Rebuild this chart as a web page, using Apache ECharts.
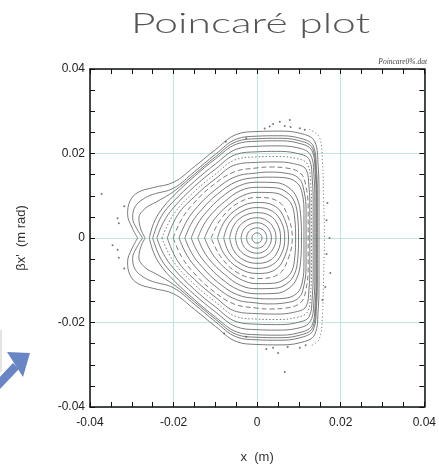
<!DOCTYPE html>
<html>
<head>
<meta charset="utf-8">
<script src="https://cdn.jsdelivr.net/npm/echarts@6/dist/echarts.min.js"></script>
<style>
  html, body { margin: 0; padding: 0; background: #fff; }
  #chart { width: 439px; height: 473px; }
</style>
</head>
<body>
<div id="chart"></div>
<script>
// Axis ticks (metres)
const xTickLabels = [-0.04, -0.02, 0, 0.02, 0.04];
const yTickLabels = [-0.04, -0.02, 0, 0.02, 0.04];

// Phase-space orbits (x, beta*x'), each a closed loop, from the core outwards
const orbit01 = [[-0.00125,0],[-0.00108,0.0006],[-0.00063,0.00104],[0,0.0012],[0.00058,0.00104],[0.001,0.0006],[0.00115,0],[0.001,-0.0006],[0.00058,-0.00104],[0,-0.0012],[-0.00063,-0.00104],[-0.00108,-0.0006],[-0.00125,0]];
const orbit02 = [[-0.00255,0],[-0.00221,0.0012],[-0.00128,0.00208],[0,0.0024],[0.00115,0.00208],[0.00199,0.0012],[0.0023,0],[0.00199,-0.0012],[0.00115,-0.00208],[0,-0.0024],[-0.00128,-0.00208],[-0.00221,-0.0012],[-0.00255,0]];
const orbit03 = [[-0.00385,0],[-0.00333,0.0018],[-0.00193,0.00312],[0,0.0036],[0.0017,0.00312],[0.00294,0.0018],[0.0034,0],[0.00294,-0.0018],[0.0017,-0.00312],[0,-0.0036],[-0.00193,-0.00312],[-0.00333,-0.0018],[-0.00385,0]];
const orbit04 = [[-0.0052,0],[-0.0045,0.0024],[-0.0026,0.00416],[0,0.0048],[0.00225,0.00416],[0.0039,0.0024],[0.0045,0],[0.0039,-0.0024],[0.00225,-0.00416],[0,-0.0048],[-0.0026,-0.00416],[-0.0045,-0.0024],[-0.0052,0]];
const orbit05 = [[-0.0066,0],[-0.00561,0.00294],[-0.0033,0.00516],[0,0.006],[0.00308,0.00528],[0.00493,0.00312],[0.0056,0],[0.00493,-0.00312],[0.00308,-0.00528],[0,-0.006],[-0.0033,-0.00516],[-0.00561,-0.00294],[-0.0066,0]];
const orbit06 = [[-0.008,0],[-0.00672,0.00346],[-0.00384,0.00616],[0,0.0072],[0.00363,0.00634],[0.00581,0.00374],[0.0066,0],[0.00581,-0.00374],[0.00363,-0.00634],[0,-0.0072],[-0.00384,-0.00616],[-0.00672,-0.00346],[-0.008,0]];
const orbit07 = [[-0.0095,0],[-0.00779,0.00395],[-0.00437,0.00714],[0,0.0084],[0.00435,0.00748],[0.0066,0.00437],[0.0075,0],[0.0066,-0.00437],[0.00435,-0.00748],[0,-0.0084],[-0.00437,-0.00714],[-0.00779,-0.00395],[-0.0095,0]];
const orbit08 = [[-0.011,0],[-0.0088,0.00432],[-0.00495,0.00806],[0,0.0096],[0.00504,0.00864],[0.00739,0.00499],[0.0084,0],[0.00739,-0.00499],[0.00504,-0.00864],[0,-0.0096],[-0.00495,-0.00806],[-0.0088,-0.00432],[-0.011,0]];
const orbit09 = [[-0.0126,0],[-0.0113,0.0028],[-0.0096,0.0052],[-0.0069,0.0078],[-0.0035,0.01],[0,0.0108],[0.0039,0.0107],[0.0066,0.0097],[0.0083,0.0078],[0.009,0.0045],[0.0092,0],[0.009,-0.0045],[0.0083,-0.0078],[0.0066,-0.0097],[0.0039,-0.0107],[0,-0.0108],[-0.0035,-0.01],[-0.0069,-0.0078],[-0.0096,-0.0052],[-0.0113,-0.0028],[-0.0126,0]];
const orbit10 = [[-0.0142,0],[-0.0128,0.0031],[-0.0108,0.0058],[-0.0078,0.0086],[-0.004,0.0112],[0,0.012],[0.0042,0.0119],[0.0071,0.0108],[0.0089,0.0086],[0.0097,0.005],[0.0099,0],[0.0097,-0.005],[0.0089,-0.0086],[0.0071,-0.0108],[0.0042,-0.0119],[0,-0.012],[-0.004,-0.0112],[-0.0078,-0.0086],[-0.0108,-0.0058],[-0.0128,-0.0031],[-0.0142,0]];
const orbit11 = [[-0.0158,0],[-0.0142,0.0034],[-0.012,0.0063],[-0.0087,0.0095],[-0.0044,0.0123],[0,0.0132],[0.0045,0.0131],[0.0076,0.0119],[0.0095,0.0095],[0.0104,0.0055],[0.0106,0],[0.0104,-0.0055],[0.0095,-0.0095],[0.0076,-0.0119],[0.0045,-0.0131],[0,-0.0132],[-0.0044,-0.0123],[-0.0087,-0.0095],[-0.012,-0.0063],[-0.0142,-0.0034],[-0.0158,0]];
const orbit12 = [[-0.0173,0],[-0.0156,0.0037],[-0.0131,0.0069],[-0.0095,0.0104],[-0.0048,0.0134],[0,0.0143],[0.0028,0.0144],[0.0062,0.0143],[0.0095,0.0131],[0.0108,0.0104],[0.0112,0.0058],[0.0112,0],[0.0112,-0.0058],[0.0108,-0.0104],[0.0095,-0.0131],[0.0062,-0.0143],[0.0028,-0.0144],[0,-0.0143],[-0.0048,-0.0134],[-0.0095,-0.0104],[-0.0131,-0.0069],[-0.0156,-0.0037],[-0.0173,0]];
const orbit13 = [[-0.0187,0],[-0.0168,0.0041],[-0.0142,0.0075],[-0.0103,0.0112],[-0.0052,0.0145],[0,0.0154],[0.0029,0.0156],[0.0064,0.0154],[0.0099,0.0142],[0.0112,0.0112],[0.0117,0.0062],[0.0117,0],[0.0117,-0.0062],[0.0112,-0.0112],[0.0099,-0.0142],[0.0064,-0.0154],[0.0029,-0.0156],[0,-0.0154],[-0.0052,-0.0145],[-0.0103,-0.0112],[-0.0142,-0.0075],[-0.0168,-0.0041],[-0.0187,0]];
const orbit14 = [[-0.0201,0],[-0.0181,0.0044],[-0.0153,0.0081],[-0.0111,0.0121],[-0.0056,0.0156],[0,0.0166],[0.0031,0.0168],[0.0067,0.0166],[0.0104,0.0153],[0.0117,0.0121],[0.0122,0.0067],[0.0122,0],[0.0122,-0.0067],[0.0117,-0.0121],[0.0104,-0.0153],[0.0067,-0.0166],[0.0031,-0.0168],[0,-0.0166],[-0.0056,-0.0156],[-0.0111,-0.0121],[-0.0153,-0.0081],[-0.0181,-0.0044],[-0.0201,0]];
const orbit15 = [[-0.0215,0],[-0.019,0.0055],[-0.015,0.0098],[-0.01,0.014],[-0.005,0.0174],[0,0.0179],[0.0043,0.018],[0.0087,0.0176],[0.0117,0.0162],[0.0124,0.0121],[0.0126,0.0072],[0.0126,0],[0.0126,-0.0072],[0.0124,-0.0121],[0.0117,-0.0162],[0.0087,-0.0176],[0.0043,-0.018],[0,-0.0179],[-0.005,-0.0174],[-0.01,-0.014],[-0.015,-0.0098],[-0.019,-0.0055],[-0.0215,0]];
const orbit16 = [[-0.0228,0],[-0.02,0.0056],[-0.015,0.011],[-0.01,0.0151],[-0.005,0.0186],[0,0.0192],[0.0044,0.0193],[0.009,0.0189],[0.0121,0.0174],[0.0128,0.0129],[0.013,0.0077],[0.013,0],[0.013,-0.0077],[0.0128,-0.0129],[0.0121,-0.0174],[0.009,-0.0189],[0.0044,-0.0193],[0,-0.0192],[-0.005,-0.0186],[-0.01,-0.0151],[-0.015,-0.011],[-0.02,-0.0056],[-0.0228,0]];
const orbit17 = [[-0.024,0],[-0.0225,0.0036],[-0.02,0.0072],[-0.015,0.0122],[-0.01,0.0163],[-0.005,0.0198],[0,0.0204],[0.0046,0.0205],[0.0092,0.0201],[0.0125,0.0185],[0.0132,0.0137],[0.0134,0.0082],[0.0134,0],[0.0134,-0.0082],[0.0132,-0.0137],[0.0125,-0.0185],[0.0092,-0.0201],[0.0046,-0.0205],[0,-0.0204],[-0.005,-0.0198],[-0.01,-0.0163],[-0.015,-0.0122],[-0.02,-0.0072],[-0.0225,-0.0036],[-0.024,0]];
const orbit18 = [[-0.025,0],[-0.023,0.005],[-0.02,0.0087],[-0.015,0.0134],[-0.01,0.0175],[-0.005,0.021],[0,0.0217],[0.0047,0.0218],[0.0095,0.0214],[0.0128,0.0196],[0.0136,0.0146],[0.0138,0.0087],[0.0138,0],[0.0138,-0.0087],[0.0136,-0.0146],[0.0128,-0.0196],[0.0095,-0.0214],[0.0047,-0.0218],[0,-0.0217],[-0.005,-0.021],[-0.01,-0.0175],[-0.015,-0.0134],[-0.02,-0.0087],[-0.023,-0.005],[-0.025,0]];
const orbit19 = [[-0.0258,0],[-0.0248,0.0034],[-0.023,0.0066],[-0.02,0.01],[-0.015,0.0146],[-0.01,0.0187],[-0.005,0.0222],[0,0.0229],[0.0048,0.023],[0.0097,0.0225],[0.0131,0.0207],[0.0139,0.0154],[0.0141,0.0092],[0.0141,0],[0.0141,-0.0092],[0.0139,-0.0154],[0.0131,-0.0207],[0.0097,-0.0225],[0.0048,-0.023],[0,-0.0229],[-0.005,-0.0222],[-0.01,-0.0187],[-0.015,-0.0146],[-0.02,-0.01],[-0.023,-0.0066],[-0.0248,-0.0034],[-0.0258,0]];
const orbit20 = [[-0.0268,0],[-0.0278,0.002],[-0.0283,0.0046],[-0.0268,0.007],[-0.024,0.0086],[-0.02,0.011],[-0.015,0.0151],[-0.01,0.0192],[-0.005,0.0228],[0,0.0235],[0.00485,0.0236],[0.0098,0.0231],[0.01325,0.02125],[0.01405,0.0158],[0.01425,0.00945],[0.01425,0],[0.01425,-0.00945],[0.01405,-0.0158],[0.01325,-0.02125],[0.0098,-0.0231],[0.00485,-0.0236],[0,-0.0235],[-0.005,-0.0228],[-0.01,-0.0192],[-0.015,-0.0151],[-0.02,-0.011],[-0.024,-0.0086],[-0.0268,-0.007],[-0.0283,-0.0046],[-0.0278,-0.002],[-0.0268,0]];
const orbit21 = [[-0.0274,0],[-0.0288,0.0022],[-0.0298,0.0048],[-0.0292,0.0074],[-0.0273,0.0092],[-0.025,0.0103],[-0.02,0.0118],[-0.015,0.0157],[-0.01,0.0198],[-0.005,0.0234],[0,0.0241],[0.0049,0.0242],[0.0099,0.0237],[0.0134,0.0218],[0.0142,0.0162],[0.0144,0.0097],[0.0144,0],[0.0144,-0.0097],[0.0142,-0.0162],[0.0134,-0.0218],[0.0099,-0.0237],[0.0049,-0.0242],[0,-0.0241],[-0.005,-0.0234],[-0.01,-0.0198],[-0.015,-0.0157],[-0.02,-0.0118],[-0.025,-0.0103],[-0.0273,-0.0092],[-0.0292,-0.0074],[-0.0298,-0.0048],[-0.0288,-0.0022],[-0.0274,0]];
const orbit22 = [[-0.0286,0],[-0.03,0.0026],[-0.031,0.0056],[-0.0304,0.0088],[-0.0285,0.0108],[-0.025,0.0119],[-0.02,0.0132],[-0.015,0.0169],[-0.01,0.0209],[-0.005,0.0245],[0,0.0252],[0.005,0.0253],[0.0102,0.0248],[0.0138,0.0228],[0.0146,0.017],[0.0148,0.0101],[0.0148,0],[0.0148,-0.0101],[0.0146,-0.017],[0.0138,-0.0228],[0.0102,-0.0248],[0.005,-0.0253],[0,-0.0252],[-0.005,-0.0245],[-0.01,-0.0209],[-0.015,-0.0169],[-0.02,-0.0132],[-0.025,-0.0119],[-0.0285,-0.0108],[-0.0304,-0.0088],[-0.031,-0.0056],[-0.03,-0.0026],[-0.0286,0]];

// Outer fringe of turns on the right-hand side
const fringeRight = [[0.0125,0.0257],[0.0149,0.0238],[0.0156,0.0185],[0.0159,0.009],[0.0161,0],[0.0159,-0.009],[0.0156,-0.0185],[0.0149,-0.0238],[0.0125,-0.0257]];

// Isolated turns outside the stable region
const strayTurns = [[0.0038,0.027],[0.0054,0.0275],[0.0078,0.0279],[0.0066,0.0265],[0.0102,0.026],[0.008,0.0263],[0.003,0.0264],[0.0114,0.0256],[0.0018,0.0259],[0.0038,-0.026],[0.0073,-0.0258],[0.0102,-0.026],[0.005,-0.0272],[0.0066,-0.0317],[0.0022,-0.0263],[0.0116,-0.0254],[0.0168,0.0083],[0.0173,0],[0.0175,-0.0083],[0.0163,-0.0116],[0.0156,-0.0147],[0.0166,0.0042],[0.0166,-0.0038],[-0.0372,0.0104],[-0.0334,0.0047],[-0.0331,0.0035],[-0.0346,-0.0017],[-0.0334,-0.0028],[-0.0331,-0.0047],[-0.0026,0.0236],[-0.0026,-0.0234],[-0.0075,0.0228],[-0.0079,-0.0226],[-0.0318,0.0075],[-0.0318,-0.0072]];

const orbits = [orbit01, orbit02, orbit03, orbit04, orbit05, orbit06, orbit07, orbit08, orbit09, orbit10, orbit11,
  orbit12, orbit13, orbit14, orbit15, orbit16, orbit17, orbit18, orbit19, orbit20, orbit21, orbit22];
// Island chains show up as broken rings
const brokenRings = { 7: [5, 3], 13: [5, 3], 15: [1.5, 2] };

const LINE = '#6c6c6c';
const FONT = '"Liberation Sans", Arial, sans-serif';
const TITLE = 'Poincaré plot';
const TITLE_FONT = '300 28px Lato, "Open Sans", sans-serif';

// The heading uses a wide geometric face; stretch Lato to the same run length
const measure = document.createElement('canvas').getContext('2d');
measure.font = TITLE_FONT;
const titleStretch = 239 / measure.measureText(TITLE).width;

const frameAxis = (pos, showLabels) => ({
  type: 'value', position: pos, min: -0.04, max: 0.04, interval: 0.02,
  axisLine: { show: true, onZero: false, lineStyle: { color: '#111', width: 1.5 } },
  axisTick: { show: true, inside: true, length: 5, lineStyle: { color: '#111', width: 1 } },
  minorTick: { show: true, splitNumber: 4, length: 5, lineStyle: { color: '#111', width: 1 } },
  axisLabel: { show: showLabels, color: '#222', fontSize: 12, fontFamily: FONT },
  splitLine: { show: false }
});

const xMain = Object.assign(frameAxis('bottom', true), {
  splitLine: { show: true, lineStyle: { color: '#bfe7df', width: 1 } },
  axisLabel: { color: '#222', fontSize: 12, fontFamily: FONT, margin: 10,
    customValues: xTickLabels },
  name: 'x  (m)', nameLocation: 'middle', nameGap: 44,
  nameTextStyle: { color: '#333', fontSize: 13, fontFamily: FONT }
});
const yMain = Object.assign(frameAxis('left', true), {
  splitLine: { show: true, lineStyle: { color: '#bfe7df', width: 1 } },
  axisLabel: { color: '#222', fontSize: 12, fontFamily: FONT, margin: 5,
    customValues: yTickLabels },
  name: "βx'  (m rad)", nameLocation: 'middle', nameGap: 62,
  nameTextStyle: { color: '#333', fontSize: 13, fontFamily: FONT }
});

const series = orbits.map((d, i) => ({
  type: 'line', data: d, smooth: 0.4, showSymbol: false, symbol: 'none',
  silent: true, z: 3,
  lineStyle: { color: LINE, width: 0.9, type: brokenRings[i] || 'solid' }
}));
series.push({
  type: 'line', data: fringeRight, smooth: 0.4, showSymbol: false, symbol: 'none', silent: true, z: 3,
  lineStyle: { color: LINE, width: 1, type: [1, 2.5] }
});
series.push({
  type: 'scatter', data: strayTurns, symbol: 'circle', symbolSize: 2, silent: true, z: 4,
  itemStyle: { color: '#555' }
});

const chart = echarts.init(document.getElementById('chart'), null, { renderer: 'canvas' });
chart.setOption({
  animation: false,
  backgroundColor: '#fff',
  grid: { left: 90, top: 69, width: 338, height: 338 },
  xAxis: [xMain, Object.assign(frameAxis('top', false), { gridIndex: 0 })],
  yAxis: [yMain, Object.assign(frameAxis('right', false), { gridIndex: 0 })],
  series: series,
  graphic: [
    { type: 'text', x: 131, y: 23.5, scaleX: titleStretch, silent: true,
      style: { text: TITLE, x: 0, y: 0, fill: '#555', font: TITLE_FONT,
        align: 'left', verticalAlign: 'middle', textAlign: 'left', textVerticalAlign: 'middle' } },
    { type: 'text', right: 12, top: 58, silent: true,
      style: { text: 'Poincare0%.dat', fill: '#444', font: 'italic 7.5px "Liberation Serif", serif' } },
    { type: 'line', silent: true,
      shape: { x1: 1, y1: 330, x2: 1, y2: 372 }, style: { stroke: '#c8c8c8', lineWidth: 1 } },
    { type: 'polygon', silent: true,
      shape: { points: [[-2, 379], [13, 363], [19, 369], [-2, 391]] }, style: { fill: '#6a85c3' } },
    { type: 'polygon', silent: true,
      shape: { points: [[7, 352], [30, 353], [23, 377]] }, style: { fill: '#6a85c3' } }
  ]
});
</script>
</body>
</html>
